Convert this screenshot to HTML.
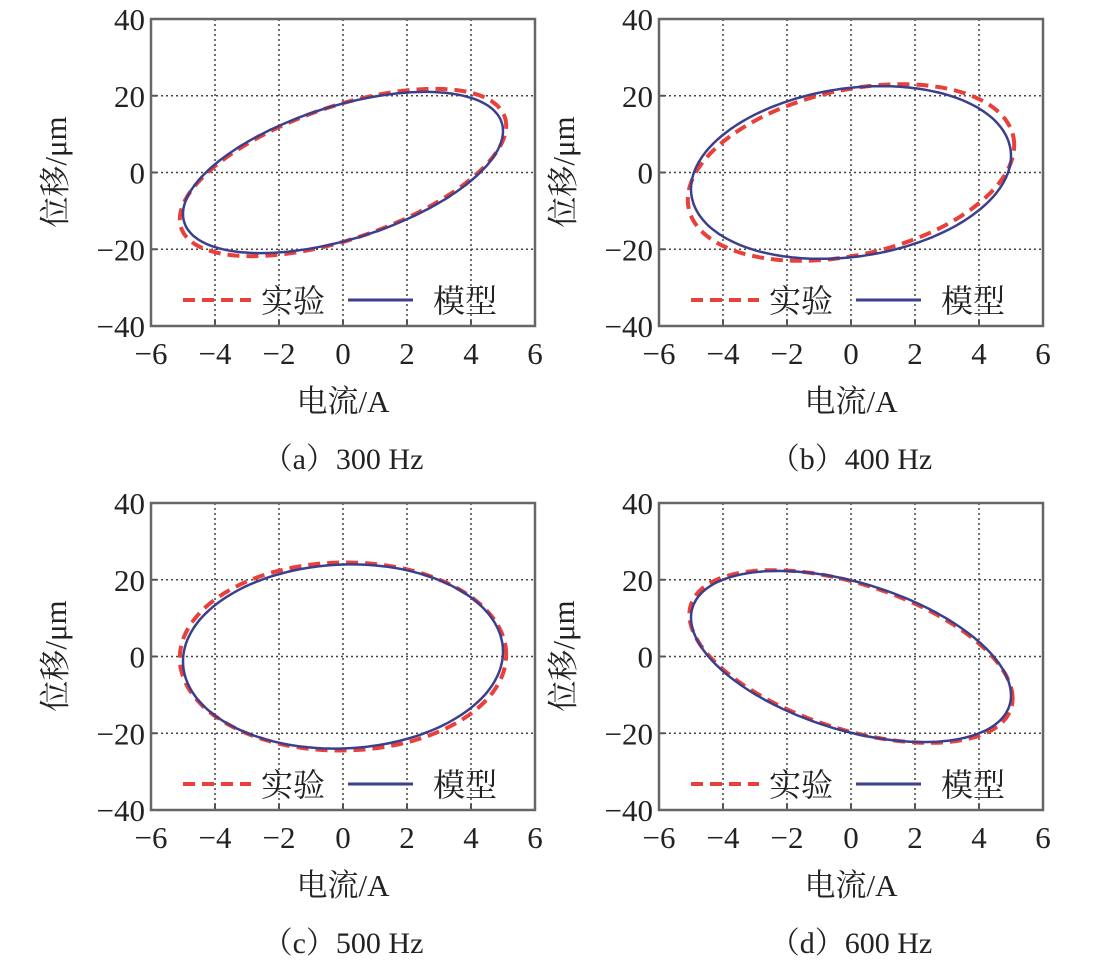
<!DOCTYPE html>
<html><head><meta charset="utf-8"><style>
html,body{margin:0;padding:0;background:#fff;}
svg text{font-family:"Liberation Serif","Noto Serif CJK SC","Noto Sans CJK SC",serif;fill:#222;}
</style></head><body>
<svg id="s" width="1093" height="964" xmlns="http://www.w3.org/2000/svg"></svg>
<script>
var s=document.getElementById('s');var h='';
var panels=[
 {ox:0,oy:0,cap:'（a）300 Hz',R:21,p:31,Re:21.8,pe:34,xe:5.1},
 {ox:508,oy:0,cap:'（b）400 Hz',R:22.5,p:11,Re:23,pe:18,xe:5.1},
 {ox:0,oy:484,cap:'（c）500 Hz',R:24,p:3,Re:24.5,pe:1,xe:5.1},
 {ox:508,oy:484,cap:'（d）600 Hz',R:22.3,p:-27,Re:22.5,pe:-29,xe:5.05}
];
panels.forEach(function(P){
 var L=151+P.ox,T=19+P.oy,W=384,H=307;
 function X(v){return L+(v+6)*32;} function Y(v){return T+(40-v)*H/80;}
 for(var i=-4;i<=4;i+=2){h+='<line x1="'+X(i)+'" y1="'+T+'" x2="'+X(i)+'" y2="'+(T+H)+'" stroke="#444" stroke-width="1.5" stroke-dasharray="2,3"/>';}
 for(var j=-20;j<=20;j+=20){h+='<line x1="'+L+'" y1="'+Y(j)+'" x2="'+(L+W)+'" y2="'+Y(j)+'" stroke="#444" stroke-width="1.5" stroke-dasharray="2,3"/>';}
 for(var i=-4;i<=4;i+=2){h+='<line x1="'+X(i)+'" y1="'+(T+H)+'" x2="'+X(i)+'" y2="'+(T+H-6)+'" stroke="#555" stroke-width="2"/>';}
 for(var j=-20;j<=20;j+=20){h+='<line x1="'+L+'" y1="'+Y(j)+'" x2="'+(L+6)+'" y2="'+Y(j)+'" stroke="#555" stroke-width="2"/>';}
 h+='<rect x="'+L+'" y="'+T+'" width="'+W+'" height="'+H+'" fill="none" stroke="#666" stroke-width="2.5"/>';
 for(var i=-6;i<=6;i+=2){h+='<text x="'+X(i)+'" y="'+(T+H+38)+'" font-size="31" text-anchor="middle">'+(i<0?'−'+(-i):i)+'</text>';}
 for(var j=-40;j<=40;j+=20){h+='<text x="'+(L-6)+'" y="'+(Y(j)+11)+'" font-size="31" text-anchor="end">'+(j<0?'−'+(-j):j)+'</text>';}
 function ell(R,ph,xa){var d='';for(var k=0;k<=200;k++){var t=k/200*2*Math.PI;var x=xa*Math.cos(t),y=R*Math.sin(t+ph*Math.PI/180);d+=(k?'L':'M')+X(x).toFixed(1)+' '+Y(y).toFixed(1);}return d+'Z';}
 h+='<path d="'+ell(P.Re,P.pe,P.xe)+'" fill="none" stroke="#e8403a" stroke-width="4" stroke-dasharray="12,7"/>';
 h+='<path d="'+ell(P.R,P.p,5)+'" fill="none" stroke="#3b3f8c" stroke-width="2.5"/>';
 var ly=T+281;
 h+='<line x1="'+(L+32)+'" y1="'+ly+'" x2="'+(L+100)+'" y2="'+ly+'" stroke="#e8403a" stroke-width="4" stroke-dasharray="12,7"/>';
 h+='<text x="'+(L+110)+'" y="'+(ly+12)+'" font-size="32">实验</text>';
 h+='<text x="'+(L+282)+'" y="'+(ly+12)+'" font-size="32">模型</text>';
 h+='<line x1="'+(L+197)+'" y1="'+ly+'" x2="'+(L+262)+'" y2="'+ly+'" stroke="#3b3f8c" stroke-width="3"/>';
 h+='<text x="'+(L+192)+'" y="'+(T+393)+'" font-size="31" text-anchor="middle">电流/A</text>';
 h+='<text transform="translate('+(P.ox+66)+','+(T+153)+') rotate(-90)" font-size="31" text-anchor="middle">位移/μm</text>';
 h+='<text x="'+(L+192)+'" y="'+(T+450)+'" font-size="30" text-anchor="middle">'+P.cap+'</text>';
});
s.innerHTML=h;
</script>
</body></html>
